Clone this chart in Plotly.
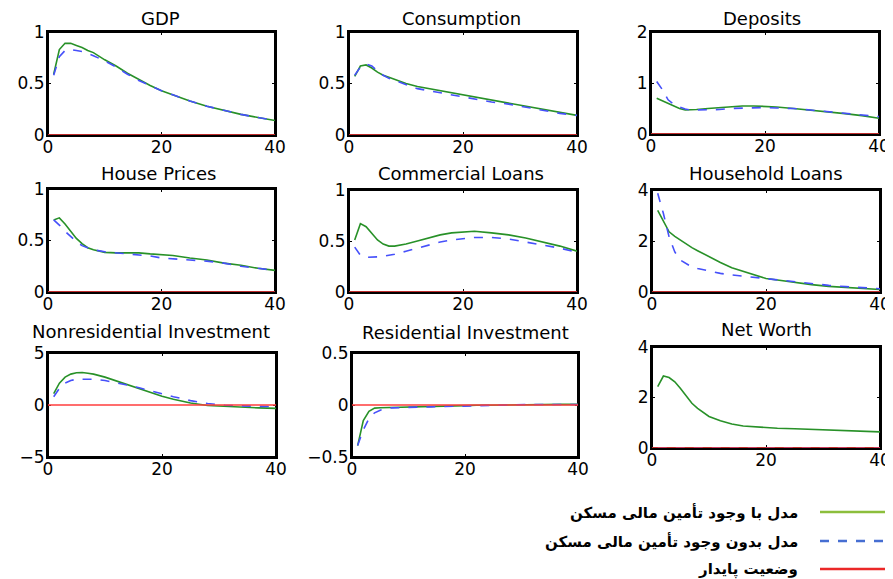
import plotly.graph_objects as go

# ---------------- data ----------------
T = [1, 2, 3, 4, 5, 6, 7, 8, 10, 12, 14, 16, 18, 20, 22, 25, 28, 31, 34, 37, 40]
T_SS = [0, 40]
SS = [0, 0]

titles = ["GDP", "Consumption", "Deposits",
          "House Prices", "Commercial Loans", "Household Loans",
          "Nonresidential Investment", "Residential Investment", "Net Worth"]

gdp_with = [0.59, 0.83, 0.89, 0.89, 0.87, 0.85, 0.82, 0.80, 0.73, 0.67, 0.60, 0.54, 0.48, 0.43, 0.39, 0.33, 0.28, 0.24, 0.20, 0.17, 0.14]
gdp_without = [0.58, 0.76, 0.82, 0.83, 0.82, 0.81, 0.79, 0.77, 0.72, 0.66, 0.59, 0.53, 0.48, 0.43, 0.39, 0.33, 0.28, 0.24, 0.20, 0.17, 0.14]

cons_with = [0.57, 0.67, 0.68, 0.65, 0.61, 0.58, 0.56, 0.54, 0.50, 0.47, 0.45, 0.43, 0.41, 0.39, 0.37, 0.34, 0.31, 0.28, 0.25, 0.22, 0.19]
cons_without = [0.58, 0.66, 0.69, 0.67, 0.62, 0.58, 0.55, 0.53, 0.49, 0.45, 0.43, 0.41, 0.39, 0.37, 0.35, 0.32, 0.30, 0.27, 0.24, 0.21, 0.19]

dep_with = [0.70, 0.65, 0.59, 0.54, 0.50, 0.47, 0.47, 0.48, 0.50, 0.52, 0.54, 0.55, 0.55, 0.54, 0.53, 0.50, 0.47, 0.44, 0.40, 0.36, 0.31]
dep_without = [1.03, 0.87, 0.67, 0.58, 0.53, 0.49, 0.47, 0.47, 0.47, 0.48, 0.50, 0.51, 0.52, 0.52, 0.51, 0.50, 0.47, 0.44, 0.41, 0.38, 0.34]

hp_with = [0.70, 0.72, 0.66, 0.59, 0.52, 0.47, 0.43, 0.41, 0.385, 0.38, 0.38, 0.38, 0.37, 0.36, 0.355, 0.33, 0.31, 0.28, 0.26, 0.23, 0.21]
hp_without = [0.70, 0.65, 0.59, 0.54, 0.49, 0.45, 0.43, 0.41, 0.39, 0.38, 0.37, 0.36, 0.35, 0.33, 0.32, 0.31, 0.30, 0.28, 0.25, 0.23, 0.21]

cl_with = [0.51, 0.67, 0.64, 0.57, 0.51, 0.47, 0.45, 0.45, 0.47, 0.50, 0.53, 0.56, 0.58, 0.59, 0.595, 0.58, 0.56, 0.53, 0.49, 0.45, 0.40]
cl_without = [0.44, 0.36, 0.34, 0.34, 0.345, 0.35, 0.36, 0.37, 0.40, 0.43, 0.46, 0.49, 0.51, 0.525, 0.535, 0.535, 0.52, 0.49, 0.46, 0.43, 0.39]

hl_with = [3.2, 2.75, 2.36, 2.18, 2.03, 1.88, 1.74, 1.62, 1.38, 1.16, 0.95, 0.80, 0.65, 0.53, 0.47, 0.37, 0.29, 0.22, 0.18, 0.14, 0.10]
hl_without = [3.87, 3.08, 2.16, 1.57, 1.25, 1.10, 0.98, 0.92, 0.81, 0.73, 0.67, 0.62, 0.57, 0.52, 0.47, 0.39, 0.32, 0.26, 0.21, 0.17, 0.13]

nri_with = [1.1, 2.1, 2.68, 2.97, 3.1, 3.13, 3.06, 2.97, 2.68, 2.3, 1.95, 1.6, 1.2, 0.85, 0.55, 0.2, -0.05, -0.15, -0.22, -0.28, -0.32]
nri_without = [0.8, 1.6, 2.1, 2.35, 2.48, 2.5, 2.5, 2.48, 2.35, 2.15, 1.9, 1.65, 1.35, 1.06, 0.8, 0.42, 0.15, -0.03, -0.1, -0.13, -0.16]

ri_with = [-0.39, -0.15, -0.06, -0.03, -0.026, -0.025, -0.025, -0.024, -0.022, -0.02, -0.018, -0.015, -0.01, -0.006, -0.003, 0.0, 0.004, 0.006, 0.006, 0.006, 0.006]
ri_without = [-0.39, -0.24, -0.13, -0.075, -0.05, -0.035, -0.028, -0.025, -0.022, -0.02, -0.018, -0.015, -0.01, -0.006, -0.003, 0.0, 0.003, 0.005, 0.005, 0.005, 0.005]

nw_with = [2.43, 2.85, 2.79, 2.62, 2.36, 2.06, 1.77, 1.57, 1.25, 1.08, 0.95, 0.87, 0.83, 0.79, 0.78, 0.76, 0.74, 0.72, 0.70, 0.67, 0.64]
nw_without = [0, 0, 0, 0, 0, 0, 0, 0, 0, 0, 0, 0, 0, 0, 0, 0, 0, 0, 0, 0, 0]

with_series = [gdp_with, cons_with, dep_with, hp_with, cl_with, hl_with, nri_with, ri_with, nw_with]
without_series = [gdp_without, cons_without, dep_without, hp_without, cl_without, hl_without, nri_without, ri_without, nw_without]

y_ranges = [[0, 1], [0, 1], [0, 2], [0, 1], [0, 1], [0, 4], [-5, 5], [-0.5, 0.5], [0, 4]]
y_ticks = [[0, 0.5, 1], [0, 0.5, 1], [0, 1, 2], [0, 0.5, 1], [0, 0.5, 1], [0, 2, 4], [-5, 0, 5], [-0.5, 0, 0.5], [0, 2, 4]]
y_ticktext = [["0", "0.5", "1"], ["0", "0.5", "1"], ["0", "1", "2"], ["0", "0.5", "1"], ["0", "0.5", "1"],
              ["0", "2", "4"], ["−5", "0", "5"], ["−0.5", "0", "0.5"], ["0", "2", "4"]]
x_ticks = [0, 20, 40]

legend_labels = ["مدل با وجود تأمین مالی مسکن",
                 "مدل بدون وجود تأمین مالی مسکن",
                 "وضعیت پایدار"]

# ---------------- layout geometry (screen pixels) ----------------
W, H = 893, 579
OFF = 8  # the page body margin shifts the figure by this much
boxes = [  # left, right, top, bottom
    (48, 275, 32, 135), (349, 577, 32, 135), (651, 879, 32, 134),
    (48, 275, 189, 292), (349, 577, 190, 292), (652, 880, 190, 292),
    (48, 276, 353, 457), (352, 578, 353, 457), (652, 880, 347, 448),
]
title_pos = [(160, 18), (461, 18), (762, 18),
             (158, 173), (461, 173), (766, 173),
             (151, 331), (465, 332), (766, 329)]


def px(x):
    return (x - OFF) / W


def py(y):
    return 1 - (y - OFF) / H


GREEN = "rgb(40,145,40)"
BLUE = "rgb(70,80,250)"
RED = "rgb(255,60,60)"
FONT = "DejaVu Sans, Liberation Sans, Arial, sans-serif"

fig = go.Figure()
layout = dict(
    width=W, height=H, margin=dict(l=0, r=0, t=0, b=0, autoexpand=False),
    paper_bgcolor="white", plot_bgcolor="white", showlegend=False,
    font=dict(family=FONT, size=17, color="black"),
)
annotations = []
shapes = []

for i in range(9):
    n = "" if i == 0 else str(i + 1)
    xa, ya = "x" + n, "y" + n
    l, r, t, b = boxes[i]
    axstyle = dict(showline=True, linecolor="black", linewidth=2, mirror="allticks",
                   ticks="inside", ticklen=3, tickcolor="black", tickwidth=1,
                   showgrid=False, zeroline=False, layer="below traces", automargin=False,
                   tickfont=dict(family=FONT, size=17, color="black"))
    layout["xaxis" + n] = dict(domain=[px(l), px(r)], anchor=ya, range=[0, 40],
                               tickvals=x_ticks, ticklabelstandoff=-4, **axstyle)
    layout["yaxis" + n] = dict(domain=[py(b), py(t)], anchor=xa, range=y_ranges[i],
                               tickvals=y_ticks[i], ticktext=y_ticktext[i], ticklabelstandoff=-2, **axstyle)

    fig.add_trace(go.Scatter(x=T, y=with_series[i], mode="lines", xaxis=xa, yaxis=ya,
                             line=dict(color=GREEN, width=1.6)))
    fig.add_trace(go.Scatter(x=T, y=without_series[i], mode="lines", xaxis=xa, yaxis=ya,
                             line=dict(color=BLUE, width=1.6, dash="dash")))
    fig.add_trace(go.Scatter(x=T_SS, y=SS, mode="lines", xaxis=xa, yaxis=ya,
                             line=dict(color=RED, width=1.6)))

    # frame around the panel (MATLAB box), beneath the data lines
    shapes.append(dict(type="rect", xref=xa + " domain", yref=ya + " domain",
                       x0=0, x1=1, y0=0, y1=1, layer="below",
                       line=dict(color="black", width=2)))

    tx, ty = title_pos[i]
    annotations.append(dict(text=titles[i], xref="paper", yref="paper",
                            x=px(tx), y=py(ty),
                            xanchor="center", yanchor="middle", showarrow=False,
                            font=dict(family=FONT, size=18, color="black")))

# legend (drawn right-to-left like the original)
leg_y = [512, 541, 569]
leg_col = ["rgb(140,190,60)", "rgb(70,110,210)", "rgb(235,40,40)"]
leg_dash = ["solid", "dash", "solid"]
for k in range(3):
    shapes.append(dict(type="line", xref="paper", yref="paper",
                       x0=px(820), x1=px(890), y0=py(leg_y[k]), y1=py(leg_y[k]),
                       line=dict(color=leg_col[k], width=2.5, dash=leg_dash[k])))
    annotations.append(dict(text="<b>" + legend_labels[k] + "</b>", xref="paper", yref="paper",
                            x=px(800), y=py(leg_y[k]), xanchor="right", yanchor="middle",
                            showarrow=False,
                            font=dict(family="DejaVu Sans, Noto Sans, sans-serif", size=15, color="black")))

layout["annotations"] = annotations
layout["shapes"] = shapes
fig.update_layout(**layout)
fig.write_html("out.html")
